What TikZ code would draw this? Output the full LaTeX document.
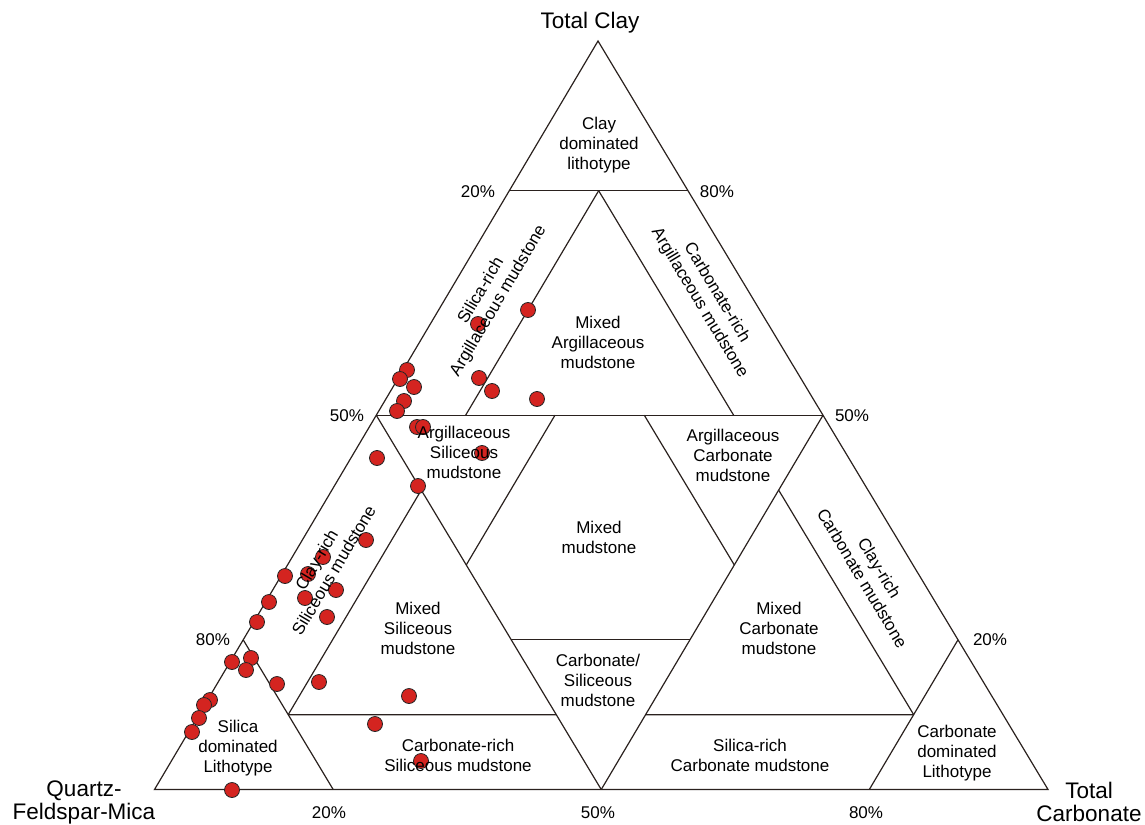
\documentclass[tikz,border=0pt]{standalone}
\usepackage{fontspec}
\setmainfont{Liberation Sans}
\definecolor{linec}{HTML}{2A211E}
\definecolor{dotred}{HTML}{D42420}
\begin{document}
\begin{tikzpicture}[x=1pt,y=-1pt,
  edge/.style={draw=linec, line width=1.2pt, line join=miter},
  dot/.style={circle, fill=dotred, draw=black!85, line width=0.8pt, minimum size=15pt, inner sep=0pt},
  region/.style={font=\fontsize{17}{20}\selectfont, align=center, inner sep=0pt, text=black},
  pct/.style={font=\fontsize{17}{20}\selectfont, inner sep=0pt},
  apex/.style={font=\fontsize{22.5}{23}\selectfont, align=center, inner sep=0pt}]
\useasboundingbox (0,0) rectangle (1145,824);
% vertices
\coordinate (A) at (154.5,789.5);
\coordinate (B) at (1048,789.5);
\coordinate (T) at (598,41);
% boundary points
\coordinate (c80L) at (barycentric cs:A=0.2,T=0.8);
\coordinate (c80R) at (barycentric cs:B=0.2,T=0.8);
\coordinate (c80M) at (barycentric cs:A=0.1,B=0.1,T=0.8);
\coordinate (c50L) at (barycentric cs:A=0.5,T=0.5);
\coordinate (c50R) at (barycentric cs:B=0.5,T=0.5);
\coordinate (K10a) at (barycentric cs:A=0.4,B=0.1,T=0.5);
\coordinate (Q10a) at (barycentric cs:A=0.1,B=0.4,T=0.5);
\coordinate (K20a) at (barycentric cs:A=0.3,B=0.2,T=0.5);
\coordinate (Q20a) at (barycentric cs:A=0.2,B=0.3,T=0.5);
\coordinate (Q50K20) at (barycentric cs:A=0.5,B=0.2,T=0.3);
\coordinate (K50Q20) at (barycentric cs:A=0.2,B=0.5,T=0.3);
\coordinate (Q50K10) at (barycentric cs:A=0.5,B=0.1,T=0.4);
\coordinate (K50Q10) at (barycentric cs:A=0.1,B=0.5,T=0.4);
\coordinate (Q80K10) at (barycentric cs:A=0.8,B=0.1,T=0.1);
\coordinate (K80Q10) at (barycentric cs:A=0.1,B=0.8,T=0.1);
\coordinate (Q50C10) at (barycentric cs:A=0.5,B=0.4,T=0.1);
\coordinate (K50C10) at (barycentric cs:A=0.4,B=0.5,T=0.1);
\coordinate (Q50C20) at (barycentric cs:A=0.5,B=0.3,T=0.2);
\coordinate (K50C20) at (barycentric cs:A=0.3,B=0.5,T=0.2);
\coordinate (BM) at (barycentric cs:A=0.5,B=0.5);
\coordinate (c20L) at (barycentric cs:A=0.8,T=0.2);
\coordinate (c20R) at (barycentric cs:B=0.8,T=0.2);
\coordinate (b20) at (barycentric cs:A=0.8,B=0.2);
\coordinate (b80) at (barycentric cs:A=0.2,B=0.8);
% lines
\draw[edge] (A) -- (B) -- (T) -- cycle;
\draw[edge] (c80L) -- (c80R);
\draw[edge] (c50L) -- (c50R);
\draw[edge] (c80M) -- (K10a);
\draw[edge] (c80M) -- (Q10a);
\draw[edge] (Q50K10) -- (Q80K10);
\draw[edge] (K50Q10) -- (K80Q10);
\draw[edge] (c50L) -- (BM);
\draw[edge] (c50R) -- (BM);
\draw[edge] (K20a) -- (Q50K20);
\draw[edge] (Q20a) -- (K50Q20);
\draw[edge] (Q50C20) -- (K50C20);
\draw[edge] (Q80K10) -- (Q50C10);
\draw[edge] (K50C10) -- (K80Q10);
\draw[edge] (c20L) -- (b20);
\draw[edge] (c20R) -- (b80);
% data points
\foreach \px/\py [count=\i] in {528/310, 478/324, 407/370, 400/379, 414/387, 479/378, 492/391, 537/399, 404/401, 397/411, 417/427, 423/427, 482/453, 377/458, 418/486, 366/540, 323/557, 308/574, 285/576, 336/590, 305/598, 269/602, 327/617, 257/622, 232/662, 251/658, 246/670, 277/684, 319/682, 409/696, 210/700, 204/705, 375/724, 199/718, 192/732, 421/761, 232/790}
  \node[dot] (p\i) at (\px,\py) {};
% region labels
\node[region] (clayd) at (599,145) {Clay\\dominated\\lithotype};
\node[region] (mixarg) at (598,342) {Mixed\\Argillaceous\\mudstone};
\node[region] (argsil) at (464,452) {Argillaceous\\Siliceous\\mudstone};
\node[region] (argcarb) at (733,455) {Argillaceous\\Carbonate\\mudstone};
\node[region] (mixed) at (599,537) {Mixed\\mudstone};
\node[region] (mixsil) at (418,628) {Mixed\\Siliceous\\mudstone};
\node[region] (mixcarb) at (779,628) {Mixed\\Carbonate\\mudstone};
\node[region] (carbsil) at (598,680) {Carbonate/\\Siliceous\\mudstone};
\node[region] (crsil) at (458,755) {Carbonate-rich\\Siliceous mudstone};
\node[region] (srcarb) at (750,755) {Silica-rich\\Carbonate mudstone};
\node[region] (sild) at (238,748) {Silica\\dominated\\Lithotype};
\node[region] (carbd) at (957,753) {Carbonate\\dominated\\Lithotype};
\node[region, rotate=59.3] (srarg) at (490,296) {Silica-rich\\Argillaceous mudstone};
\node[region, rotate=-59] (crarg) at (708,298) {Carbonate-rich\\Argillaceous mudstone};
\node[region, rotate=59.3] (clsil) at (325,565) {Clay-rich\\Siliceous mudstone};
\node[region, rotate=-59] (clcarb) at (871,573) {Clay-rich\\Carbonate mudstone};
% percentage labels
\node[pct] (l20a) at (478,192) {20\%};
\node[pct] (r80a) at (717,192) {80\%};
\node[pct] (l50) at (347,416) {50\%};
\node[pct] (r50) at (852,416) {50\%};
\node[pct] (l80) at (213,640) {80\%};
\node[pct] (r20) at (990,640) {20\%};
\node[pct] (b20l) at (329,813) {20\%};
\node[pct] (b50l) at (598,813) {50\%};
\node[pct] (b80l) at (866,813) {80\%};
% apex labels
\node[apex] (tclay) at (590,23) {Total Clay};
\node[apex] (qfm) at (84,802) {Quartz-\\Feldspar-Mica};
\node[apex] (tcarb) at (1089,802) {Total\\Carbonate};
\end{tikzpicture}
\end{document}
